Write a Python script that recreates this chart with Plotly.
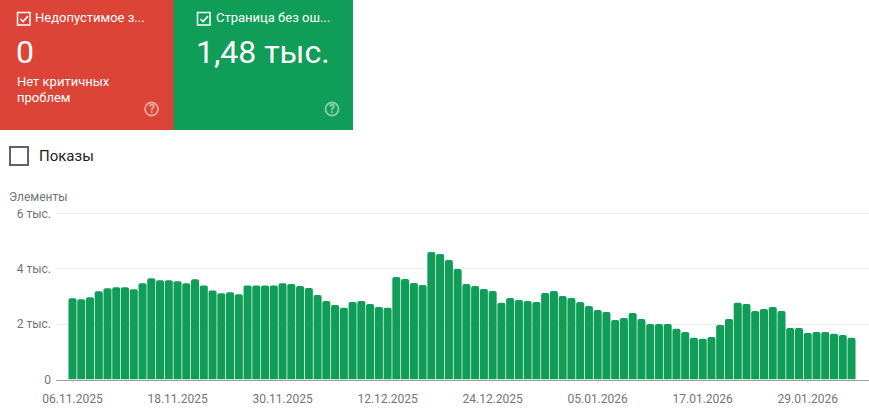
import pandas as pd
import plotly.graph_objects as go

W, H = 869, 415
start_date = "2025-11-06"
values = [2935, 2900, 2970, 3190, 3300, 3330, 3330, 3260, 3480, 3660,
          3590, 3590, 3550, 3480, 3620, 3400, 3220, 3120, 3150, 3080,
          3400, 3400, 3400, 3400, 3480, 3450, 3380, 3310, 3055, 2840,
          2695, 2590, 2800, 2840, 2730, 2620, 2590, 3705, 3630, 3490,
          3415, 4610, 4535, 4320, 3995, 3450, 3380, 3270, 3200, 2770,
          2950, 2875, 2840, 2800, 3130, 3200, 3020, 2950, 2800, 2660,
          2515, 2440, 2155, 2225, 2405, 2190, 2010, 2010, 2010, 1830,
          1720, 1505, 1470, 1540, 1970, 2190, 2770, 2730, 2480, 2550,
          2620, 2480, 1865, 1865, 1680, 1720, 1720, 1650, 1610, 1505]
dates = pd.date_range(start_date, periods=len(values)).strftime("%d.%m.%Y").tolist()
x_ticks = dates[::12]
y_ticks = [0, 2000, 4000, 6000]
y_labels = ["0", "2 тыс.", "4 тыс.", "6 тыс."]

RED, GREEN = "#DB4437", "#0F9D58"
INK, MUTED = "#202124", "#70757a"
FONT = "Roboto, Arial, sans-serif"

px = lambda x: x / W
py = lambda y: 1 - y / H

def rect(x0, y0, x1, y1, **kw):
    return dict(type="rect", xref="paper", yref="paper", x0=px(x0), x1=px(x1),
                y0=py(y1), y1=py(y0), layer="below", **kw)

def text(x, y, s, size, color, anchor="left", opacity=1.0, weight="normal"):
    return dict(xref="paper", yref="paper", x=px(x), y=py(y), text=s, showarrow=False,
                xanchor=anchor, yanchor="middle", opacity=opacity, borderpad=0,
                font=dict(family=FONT, size=size, color=color, weight=weight))

def check_path(x, y):
    pts = [(x + 3, y + 6.5), (x + 5.6, y + 9), (x + 10.5, y + 3.6)]
    return "M " + " L ".join(f"{px(a)},{py(b)}" for a, b in pts)

def checkbox(x, y):
    return [rect(x, y, x + 12.5, y + 12.5, line=dict(color="white", width=1.5), fillcolor="rgba(0,0,0,0)"),
            dict(type="path", xref="paper", yref="paper", path=check_path(x, y),
                 line=dict(color="white", width=1.6), layer="above")]

def help_icon(cx, cy):
    return dict(type="circle", xref="paper", yref="paper", x0=px(cx - 6.5), x1=px(cx + 6.5),
                y0=py(cy + 6.5), y1=py(cy - 6.5), line=dict(color="rgba(255,255,255,0.5)", width=1.8))

fig = go.Figure(go.Bar(x=dates, y=values, marker=dict(color=GREEN, cornerradius=2, line_width=0),
                       width=0.92, hoverinfo="x+y"))

shapes = [rect(173, 0, 353, 130, fillcolor=GREEN, line_width=0),
          rect(0, 0, 173.5, 130, fillcolor=RED, line_width=0),
          rect(10, 147, 28, 165, fillcolor="white", line=dict(color="#5f6368", width=2)),
          help_icon(151.5, 109), help_icon(332, 109)]
shapes += checkbox(17.5, 12.5) + checkbox(197.5, 12.5)

annotations = [
    text(34, 17.5, "Недопустимое з...", 13, "white"),
    text(214.5, 17.5, "Страница без ош...", 13, "white"),
    text(15, 52, "0", 32, "white"),
    text(195, 52, "1,48 тыс.", 32, "white"),
    text(16, 81.5, "Нет критичных", 13, "white"),
    text(16, 97.5, "проблем", 13, "white"),
    text(151.5, 109, "?", 12, "white", "center", 0.55, weight=700),
    text(332, 109, "?", 12, "white", "center", 0.55, weight=700),
    text(38, 156, "Показы", 15, INK),
    text(8, 197, "Элементы", 12, MUTED),
]

fig.update_layout(
    width=W, height=H, margin=dict(l=0, r=0, t=0, b=0),
    paper_bgcolor="white", plot_bgcolor="white", showlegend=False,
    font=dict(family=FONT, size=12, color=MUTED),
    shapes=shapes, annotations=annotations,
    xaxis=dict(type="category", domain=[px(56), 1], range=[-1.886, 91], automargin=False,
               tickmode="array", tickvals=x_ticks, ticktext=x_ticks, showgrid=False,
               ticks="outside", ticklen=2, tickcolor="#e0e0e0", showline=True, ticklabelstandoff=6,
               linecolor="#9aa0a6", linewidth=1, tickfont=dict(size=12, color=MUTED), fixedrange=True),
    yaxis=dict(domain=[py(379.5), py(211.5)], range=[0, 6072], tickmode="array", tickvals=y_ticks,
               ticktext=y_labels, gridcolor="#ebebeb", gridwidth=1, zeroline=False, automargin=False,
               ticks="", ticklabelstandoff=4, tickfont=dict(size=12, color=MUTED), fixedrange=True),
)

fig.write_html("out.html", config=dict(displayModeBar=False),
               post_script="document.body.style.margin='0';document.body.style.overflow='hidden';")
